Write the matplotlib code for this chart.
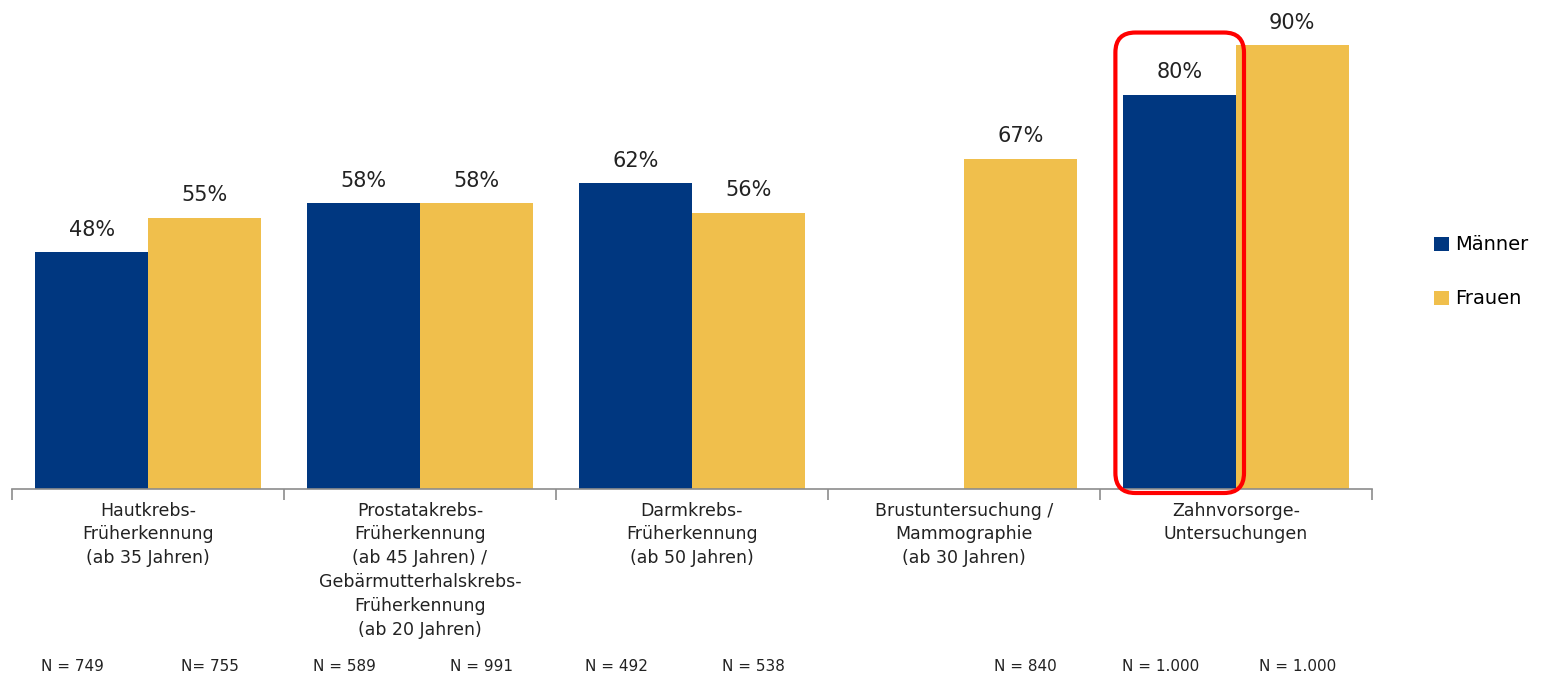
import matplotlib.pyplot as plt
import numpy as np
from matplotlib.patches import FancyBboxPatch

# Daten
categories = [
    "Hautkrebs-\nFrüherkennung\n(ab 35 Jahren)",
    "Prostatakrebs-\nFrüherkennung\n(ab 45 Jahren) /\nGebärmutterhalskrebs-\nFrüherkennung\n(ab 20 Jahren)",
    "Darmkrebs-\nFrüherkennung\n(ab 50 Jahren)",
    "Brustuntersuchung /\nMammographie\n(ab 30 Jahren)",
    "Zahnvorsorge-\nUntersuchungen",
]
maenner = [48, 58, 62, np.nan, 80]
frauen = [55, 58, 56, 67, 90]
n_maenner = ["N = 749", "N = 589", "N = 492", "", "N = 1.000"]
n_frauen = ["N= 755", "N = 991", "N = 538", "N = 840", "N = 1.000"]

col_m = '#003780'
col_f = '#F0BF4C'

plt.rcParams['font.family'] = ['DejaVu Sans']

fig = plt.figure(figsize=(15.51, 6.77), dpi=100)
ax = fig.add_axes([12 / 1551, 1 - 489 / 677, 1360 / 1551, 489 / 677])

x = np.arange(len(categories))
w = 0.414
bm = ax.bar(x - w / 2, maenner, w, color=col_m, label='Männer')
bf = ax.bar(x + w / 2, frauen, w, color=col_f, label='Frauen')

# Prozentwerte über den Balken
for xs, vals in ((x - w / 2, maenner), (x + w / 2, frauen)):
    for xi, v in zip(xs, vals):
        if np.isnan(v):
            continue
        ax.annotate(f"{v:.0f}%", (xi, v), xytext=(0, 9), textcoords='offset points',
                    ha='center', va='bottom', fontsize=15, color='#222222')

ax.set_xlim(-0.5, len(categories) - 0.5)
ax.set_ylim(0, 99.2)

for s in ('top', 'right', 'left'):
    ax.spines[s].set_visible(False)
ax.spines['bottom'].set_color('#8c8c8c')
ax.spines['bottom'].set_linewidth(1.2)
ax.set_yticks([])

ax.set_xticks(x, categories, fontsize=12.5, color='#222222', linespacing=1.42)
ax.tick_params(axis='x', which='major', length=0, pad=9)
ax.set_xticks(np.arange(-0.5, len(categories)), minor=True)
ax.tick_params(axis='x', which='minor', length=8, color='#8c8c8c', width=1.2)

# Fallzahlen unter den Achsenbeschriftungen
trans = ax.get_xaxis_transform()
for xi, lm, lf in zip(x, n_maenner, n_frauen):
    if lm:
        ax.text(xi - w / 2 - 0.07, -0.362, lm, transform=trans, ha='center', va='center',
                fontsize=11, color='#222222')
    ax.text(xi + w / 2 + 0.02, -0.362, lf, transform=trans, ha='center', va='center',
            fontsize=11, color='#222222')

# Rote Markierung um den Männer-Balken der Zahnvorsorge
rect = bm[4]
x0, y0 = ax.transData.transform((rect.get_x(), 0))
x1, y1 = ax.transData.transform((rect.get_x() + rect.get_width(), maenner[4] + 12.6))
pad = 10
box = FancyBboxPatch((x0 - pad + 2, y0 - 4), (x1 - x0) + 2 * pad - 4, (y1 - y0) + 4,
                     boxstyle="round,pad=0,rounding_size=20", transform=None,
                     fill=False, edgecolor='#FF0000', linewidth=3, clip_on=False, zorder=5)
fig.patches.append(box)

ax.legend(loc='center left', bbox_to_anchor=(1434 / 1551, 1 - 272 / 677),
          bbox_transform=fig.transFigure, frameon=False, fontsize=14,
          handlelength=0.75, handleheight=0.75, handletextpad=0.35,
          labelspacing=1.8, borderpad=0, borderaxespad=0)

fig.savefig('out.png', dpi=100)
